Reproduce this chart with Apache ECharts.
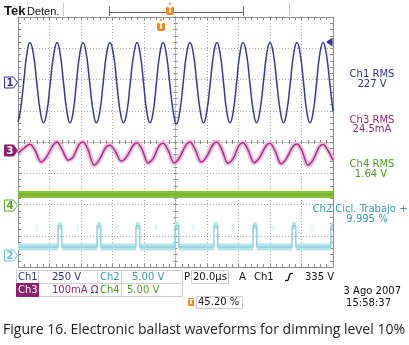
<!DOCTYPE html>
<html>
<head>
<meta charset="utf-8">
<script src="https://cdn.jsdelivr.net/npm/echarts@6/dist/echarts.min.js"></script>
<style>
  html, body { margin: 0; padding: 0; background: #fff; }
  #chart { width: 409px; height: 345px; }
</style>
</head>
<body>
<div id="chart"></div>
<script>
// time base: 20 us/div, 10 div across, trigger at centre
const timeTicks = [-100, -80, -60, -40, -20, 0, 20, 40, 60, 80, 100];

// Ch1 - lamp voltage (V), 250 V/div; peaks +-321 V, 227 V at the eighth-period points
const ch1Time = [-100, -98.5, -96.4, -94.4, -92.4, -90.2, -88.1, -85.9, -83.8, -81.6, -79.5, -77.3,
  -75.2, -73.2, -71.1, -69.0, -67.0, -64.9, -62.9, -60.8, -58.7, -56.6, -54.5, -52.3,
  -50.2, -48.0, -45.9, -43.8, -41.6, -39.4, -37.3, -35.2, -33.0, -30.8, -28.7, -26.5,
  -24.4, -22.4, -20.3, -18.3, -16.2, -14.1, -12.1, -10.0, -7.9, -5.8, -3.7, -1.5,
  0.6, 2.8, 4.9, 7.0, 9.2, 11.4, 13.5, 15.7, 17.8, 19.9, 22.1, 24.2,
  26.3, 28.4, 30.5, 32.5, 34.6, 36.7, 38.8, 40.8, 42.9, 45.1, 47.2, 49.4,
  51.5, 53.6, 55.8, 57.9, 60.0, 62.2, 64.3, 66.5, 68.6, 70.7, 72.9, 75.0,
  77.1, 79.2, 81.3, 83.3, 85.4, 87.5, 89.6, 91.6, 93.7, 95.8, 97.9, 100];
const ch1Volts = [-315, -227, 0, 227, 321, 227, 0, -227, -321, -227, 0, 227,
  321, 227, 0, -227, -321, -227, 0, 227, 321, 227, 0, -227,
  -321, -227, 0, 227, 321, 227, 0, -227, -321, -227, 0, 227,
  321, 227, 0, -227, -321, -227, 0, 227, 321, 227, 0, -227,
  -330, -227, 0, 227, 321, 227, 0, -227, -321, -227, 0, 227,
  321, 227, 0, -227, -321, -227, 0, 227, 321, 227, 0, -227,
  -321, -227, 0, 227, 321, 227, 0, -227, -321, -227, 0, 227,
  321, 227, 0, -227, -321, -227, 0, 227, 321, 227, 0, -227];

// Ch3 - lamp current (mA), 100 mA/div
const ch3Time = [-100, -94.9, -92.4, -89.2, -85.4, -82.2, -77.7, -75.2, -72.0, -68.2, -65.0,
  -61.2, -58.7, -55.5, -51.7, -48.5, -44.1, -41.6, -38.4, -34.6, -31.4,
  -26.9, -24.4, -21.2, -17.4, -14.2, -10.4, -7.9, -4.7, -0.9, 2.3,
  6.7, 9.2, 12.4, 16.2, 19.4, 23.8, 26.3, 29.5, 33.3, 36.5,
  40.4, 42.9, 46.1, 49.9, 53.1, 57.5, 60.0, 63.2, 67.0, 70.2,
  74.6, 77.1, 80.3, 84.1, 87.3, 91.2, 93.7, 96.9, 100];
const ch3MilliAmps = [-8, 14, 21, 2, -36, -22, 18, 28, 4, -30, -20,
  20, 28, 3, -46, -30, 12, 18, 0, -33, -22,
  17, 26, 4, -39, -25, 16, 24, 2, -39, -24,
  19, 28, 5, -36, -22, 20, 28, 3, -40, -26,
  18, 26, 2, -38, -24, 16, 24, 0, -42, -27,
  14, 22, 0, -46, -30, 12, 20, 0, -30];

// Ch4 - RMS 1.64 V, 5 V/div
const ch4Time = [-100, 100];
const ch4Volts = [1.7, 1.7];

// Ch2 - dimming PWM (V), 5 V/div, duty 9.995 %
const ch2PulseStart = [-74.6, -49.8, -25.1, -0.3, 24.4, 49.2, 74.0, 98.7];
const ch2PulseWidth = 2.4;
const ch2Low = 1.3;
const ch2High = 4.7;
// faint persistence ghosts between pulses
const ghostTime = [-87.9, -62.2, -37.1, -12.4, 11.0, 36.5, 62.0, 86.7];
const ghostVolts = [4.4, 4.4, 4.4, 4.4, 4.4, 4.4, 4.4, 4.4];

const chScale = { ch1: 250, ch2: 5, ch3: 100, ch4: 5 };
const chOffset = { ch1: 1.9, ch2: -3.62, ch3: -0.28, ch4: -2.02 };

const C1 = "#34379a", C2 = "#8fd2e2", C3 = "#a8307f", C4 = "#86c23a";
const FRAME = "#8c8c8c", GRID = "#a9a9a9";

const toDiv = (time, vals, ch) => time.map((t, i) => [t, chOffset[ch] + vals[i] / chScale[ch]]);
const ch2Y = (v) => chOffset.ch2 + v / chScale.ch2;

// Ch2 trace (thin) and its noise band (baseline and pulse tops only)
const ch2Trace = [[-100, ch2Y(ch2Low)]];
const ch2Band = [[-100, ch2Y(ch2Low)]];
ch2PulseStart.forEach((s) => {
  const e = Math.min(s + ch2PulseWidth, 100);
  ch2Trace.push([s, ch2Y(ch2Low)], [s, ch2Y(ch2High)], [e, ch2Y(ch2High)]);
  ch2Band.push([s, ch2Y(ch2Low)], null, [s, ch2Y(ch2High)], [e, ch2Y(ch2High)], null);
  if (e < 100) {
    ch2Trace.push([e, ch2Y(ch2Low)]);
    ch2Band.push([e, ch2Y(ch2Low)]);
  }
});

const chart = echarts.init(document.getElementById("chart"), null, { renderer: "canvas" });

const frameAxis = (extra) => Object.assign({
  type: "value",
  axisLine: { onZero: false, lineStyle: { color: FRAME, width: 1 } },
  axisTick: { show: true, inside: true, length: 3, lineStyle: { color: FRAME } },
  minorTick: { show: true, splitNumber: 5, length: 3, lineStyle: { color: FRAME } },
  axisLabel: { show: false },
  splitLine: { show: false },
}, extra);

const centreAxis = (extra) => Object.assign({
  type: "value",
  axisLine: { onZero: true, lineStyle: { color: GRID, width: 1, type: [1, 2] } },
  axisTick: { show: true, inside: false, length: 2, lineStyle: { color: "#8a8a8a" } },
  minorTick: { show: true, splitNumber: 5, length: 2, lineStyle: { color: "#8a8a8a" } },
  axisLabel: { show: false },
  splitLine: { show: false },
}, extra);

const xRange = { min: timeTicks[0], max: timeTicks[timeTicks.length - 1], interval: 20 };
const yRange = { min: -4, max: 4, interval: 1 };
const dotted = { show: true, lineStyle: { color: GRID, width: 1, type: [1, 2] } };

const txt = (x, y, s, color, font, align) => ({
  type: "text", x, y, z: 20,
  style: { text: s, fill: color, font, align: align || "left", textAlign: align || "left",
    verticalAlign: "middle", textVerticalAlign: "middle" },
});
const line = (x1, y1, x2, y2, color, w) => ({
  type: "line", z: 20, shape: { x1, y1, x2, y2 }, style: { stroke: color, lineWidth: w || 1 },
});
const box = (x, y, w, h, fill, stroke) => ({
  type: "rect", z: 19, shape: { x, y, width: w, height: h },
  style: { fill: fill || "none", stroke: stroke || "none", lineWidth: 1 },
});
const chanTag = (y, n, color, filled) => [
  { type: "polygon", z: 20, shape: { points: [[4.5, y - 5.5], [13.5, y - 5.5], [17.5, y], [13.5, y + 5.5], [4.5, y + 5.5]] },
    style: { fill: filled ? color : "#fff", stroke: color, lineWidth: 1 } },
  txt(10, y + 0.5, n, filled ? "#fff" : color, "bold 10px 'DejaVu Sans'", "center"),
];
const trigTag = (x, y) => [
  { type: "polygon", z: 20, shape: { points: [[x - 1.5, y], [x + 1.5, y], [x, y + 2.5]] }, style: { fill: "#f08a1c" } },
  { type: "rect", z: 20, shape: { x: x - 4, y: y + 3, width: 8, height: 9, r: 2 }, style: { fill: "#f08a1c" } },
  txt(x, y + 7.8, "T", "#fff", "bold 8px 'DejaVu Sans'", "center"),
];

const F = "10px 'DejaVu Sans'";
const graphics = [].concat(
  [
    txt(4, 11, "Tek", "#111", "bold 13px 'Liberation Sans'"),
    txt(27, 11.5, "Deten.", "#111", "11px 'Liberation Sans'"),
    line(63.5, 3, 63.5, 16, "#c8c8c8"),
    line(289.5, 3, 289.5, 16, "#c8c8c8"),
    line(109.5, 12.5, 243.5, 12.5, "#6e5f80"),
    line(109.5, 6, 109.5, 16, "#6e5f80"),
    line(243.5, 6, 243.5, 16, "#6e5f80"),
    { type: "polygon", z: 20, shape: { points: [[326, 42], [332.5, 37.5], [332.5, 46.5]] }, style: { fill: C1 } },
  ],
  trigTag(170, 3),
  trigTag(161, 19),
  chanTag(82.5, "1", C1, false),
  chanTag(150.5, "3", "#8e1f6c", true),
  chanTag(205.5, "4", "#5aa428", false),
  chanTag(255.5, "2", "#6cc0d4", false),
  [
    txt(372, 74, "Ch1 RMS", "#2e3088", F, "center"),
    txt(372, 84, "227 V", "#2e3088", F, "center"),
    txt(372, 120, "Ch3 RMS", "#8e2a70", F, "center"),
    txt(372, 129.5, "24.5mA", "#8e2a70", F, "center"),
    txt(372, 164, "Ch4 RMS", "#4f9a1f", F, "center"),
    txt(371, 174, "1.64 V", "#4f9a1f", F, "center"),
    txt(360, 209, "Ch2 Cicl. Trabajo +", "#3a9aaa", F, "center"),
    txt(367, 219, "9.995 %", "#3a9aaa", F, "center"),

    // status bar
    box(16.5, 270.5, 81, 13, null, "#cfcfcf"),
    box(16.5, 270.5, 22, 13, null, "#cfcfcf"),
    box(97.5, 270.5, 85, 13, null, "#cfcfcf"),
    box(97.5, 270.5, 24, 13, null, "#cfcfcf"),
    box(191.5, 270.5, 37, 13, null, "#cfcfcf"),
    box(16.5, 283.5, 81, 13, null, "#cfcfcf"),
    box(16.5, 283.5, 22, 13, "#8e1f6c", "#8e1f6c"),
    box(97.5, 283.5, 85, 13, null, "#cfcfcf"),
    box(97.5, 283.5, 24, 13, null, "#cfcfcf"),
    box(196.5, 296.5, 46, 12, null, "#cfcfcf"),

    txt(18, 277, "Ch1", "#2e3088", F),
    txt(52, 277, "250 V", "#2e3088", F),
    txt(100, 277, "Ch2", "#3a9aaa", F),
    txt(132, 277, "5.00 V", "#3a9aaa", F),
    txt(184, 277, "P", "#111", F),
    txt(193, 277, "20.0µs", "#111", F),
    txt(239, 277, "A", "#111", F),
    txt(254, 277, "Ch1", "#111", F),
    line(285, 280.5, 288, 280.5, "#111", 1.3),
    line(288, 280.5, 290, 273.5, "#111", 1.3),
    line(290, 273.5, 293, 273.5, "#111", 1.3),
    txt(305, 277, "335 V", "#111", F),

    txt(18, 290, "Ch3", "#fff", F),
    txt(52, 290, "100mA Ω", "#8e2a70", F),
    txt(100, 290, "Ch4", "#4f9a1f", F),
    txt(127, 290, "5.00 V", "#4f9a1f", F),
    { type: "rect", z: 20, shape: { x: 188, y: 298, width: 6, height: 8, r: 1 }, style: { fill: "#f08a1c" } },
    txt(191, 302.5, "T", "#fff", "bold 7px 'DejaVu Sans'", "center"),
    txt(198, 302.5, "45.20 %", "#111", F),

    txt(401, 291, "3 Ago 2007", "#111", F, "right"),
    txt(391, 303, "15:58:37", "#111", F, "right"),

    txt(204, 330.5, "Figure 16. Electronic ballast waveforms for dimming level 10%", "#222", "14px 'Open Sans'", "center"),
  ]
);

const option = {
  animation: false,
  backgroundColor: "#fff",
  grid: [
    { left: 18, top: 17, width: 315, height: 250 },
    { left: 18, top: 17, width: 315, height: 250 },
  ],
  xAxis: [
    frameAxis(Object.assign({ gridIndex: 0, position: "bottom", splitLine: dotted }, xRange)),
    frameAxis(Object.assign({ gridIndex: 0, position: "top" }, xRange)),
    centreAxis(Object.assign({ gridIndex: 1, position: "bottom" }, xRange)),
    centreAxis(Object.assign({ gridIndex: 1, position: "top" }, xRange)),
  ],
  yAxis: [
    frameAxis(Object.assign({ gridIndex: 0, position: "left", splitLine: dotted }, yRange)),
    frameAxis(Object.assign({ gridIndex: 0, position: "right" }, yRange)),
    centreAxis(Object.assign({ gridIndex: 1, position: "left" }, yRange)),
    centreAxis(Object.assign({ gridIndex: 1, position: "right" }, yRange)),
  ],
  series: [
    { name: "Ch1", type: "line", xAxisIndex: 0, yAxisIndex: 0, showSymbol: false, smooth: 0.5,
      data: toDiv(ch1Time, ch1Volts, "ch1"), lineStyle: { color: C1, width: 1.5 }, z: 5 },
    { name: "Ch3 halo", type: "line", xAxisIndex: 0, yAxisIndex: 0, showSymbol: false, smooth: 0.3,
      data: toDiv(ch3Time, ch3MilliAmps, "ch3"), lineStyle: { color: "#efbfe2", width: 5 }, z: 3 },
    { name: "Ch3", type: "line", xAxisIndex: 0, yAxisIndex: 0, showSymbol: false, smooth: 0.3,
      data: toDiv(ch3Time, ch3MilliAmps, "ch3"), lineStyle: { color: C3, width: 1.5 }, z: 4 },
    { name: "Ch4", type: "line", xAxisIndex: 0, yAxisIndex: 0, showSymbol: false,
      data: toDiv(ch4Time, ch4Volts, "ch4"), lineStyle: { color: C4, width: 7 }, z: 4 },
    { name: "Ch4 core", type: "line", xAxisIndex: 0, yAxisIndex: 0, showSymbol: false,
      data: toDiv(ch4Time, ch4Volts, "ch4"), lineStyle: { color: "#78b32c", width: 2 }, z: 4 },
    { name: "Ch2 ghost", type: "scatter", xAxisIndex: 0, yAxisIndex: 0, symbol: "rect", symbolSize: [3, 7],
      data: toDiv(ghostTime, ghostVolts, "ch2"), itemStyle: { color: C2, opacity: 0.22 }, z: 3 },
    { name: "Ch2 band", type: "line", xAxisIndex: 0, yAxisIndex: 0, showSymbol: false, connectNulls: false,
      data: ch2Band, lineStyle: { color: "#b5e3ee", width: 7 }, z: 3 },
    { name: "Ch2", type: "line", xAxisIndex: 0, yAxisIndex: 0, showSymbol: false,
      data: ch2Trace, lineStyle: { color: C2, width: 1.5 }, z: 4 },
  ],
  graphic: { elements: graphics },
};

chart.setOption(option);
</script>
</body>
</html>
